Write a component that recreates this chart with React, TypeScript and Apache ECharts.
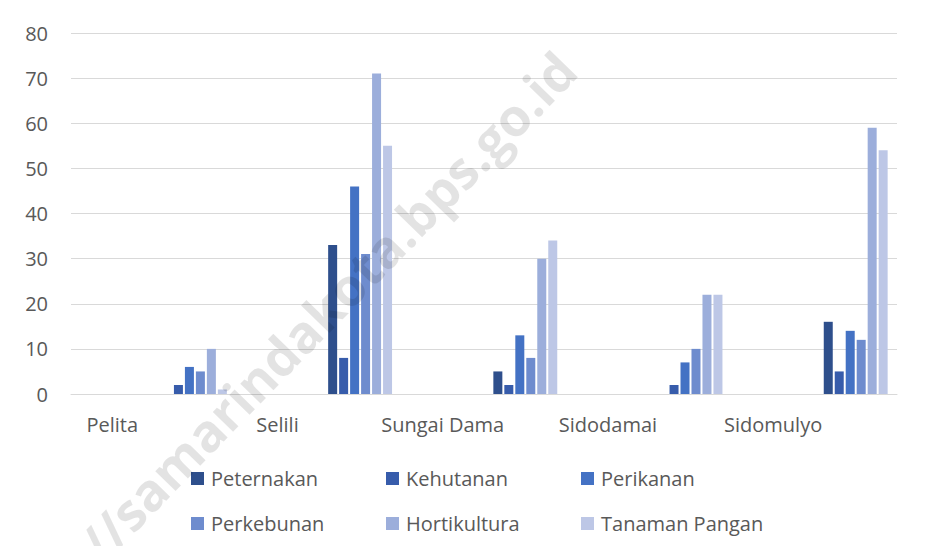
import React, { useEffect, useRef } from "react";
import * as echarts from "echarts";

const villages = ["Pelita", "Selili", "Sungai Dama", "Sidodamai", "Sidomulyo"];
const seriesNames = ["Peternakan", "Kehutanan", "Perikanan", "Perkebunan", "Hortikultura", "Tanaman Pangan"];
const peternakan = [0, 33, 5, 0, 16];
const kehutanan = [2, 8, 2, 2, 5];
const perikanan = [6, 46, 13, 7, 14];
const perkebunan = [5, 31, 8, 10, 12];
const hortikultura = [10, 71, 30, 22, 59];
const tanamanPangan = [1, 55, 34, 22, 54];
const yTicks = [0, 10, 20, 30, 40, 50, 60, 70, 80];

const colors = ["#2E4F8C", "#375CAB", "#4472C4", "#6E8CCE", "#9CAEDB", "#BDC7E6"];
const FONT = "'Open Sans', sans-serif";
const TEXT = "#595959";
const GRID = "#D9D9D9";

export default function App() {
  const ref = useRef<HTMLDivElement>(null);
  useEffect(() => {
    if (!ref.current) return;
    const chart = echarts.init(ref.current, undefined, { renderer: "svg" });
    // Excel layout: each village label sits in its own slot, its bars in the following slot
    const categories: string[] = [];
    villages.forEach((v) => {
      categories.push(v);
      categories.push("");
    });
    const interleave = (vals: number[]) => {
      const out: (number | null)[] = [];
      vals.forEach((v) => {
        out.push(null);
        out.push(v);
      });
      return out;
    };
    const allValues = [peternakan, kehutanan, perikanan, perkebunan, hortikultura, tanamanPangan];
    const legendCommon = {
      orient: "horizontal",
      itemWidth: 13,
      itemHeight: 13,
      itemGap: 0,
      icon: "rect",
      textStyle: {
        fontFamily: FONT,
        fontSize: 20,
        color: TEXT,
        width: 175,
        lineHeight: 21,
        padding: [0, 0, 0, 2],
      },
    };
    chart.setOption({
      animation: false,
      backgroundColor: "#ffffff",
      color: colors,
      textStyle: { fontFamily: FONT },
      grid: { left: 71, right: 39, top: 33, bottom: 160 },
      xAxis: {
        type: "category",
        data: categories,
        axisTick: { show: false },
        axisLine: { lineStyle: { color: GRID, width: 1 } },
        axisLabel: { interval: 0, color: TEXT, fontSize: 20, fontFamily: FONT, margin: 20 },
        splitLine: { show: false },
      },
      yAxis: {
        type: "value",
        min: yTicks[0],
        max: yTicks[yTicks.length - 1],
        interval: 10,
        axisLine: { show: false },
        axisTick: { show: false },
        axisLabel: { color: TEXT, fontSize: 20, fontFamily: FONT, margin: 23 },
        splitLine: { lineStyle: { color: GRID, width: 1 } },
      },
      legend: [
        { ...legendCommon, left: 186, top: 463, data: seriesNames.slice(0, 3) },
        { ...legendCommon, left: 186, top: 508, data: seriesNames.slice(3, 6) },
      ],
      series: seriesNames.map((name, i) => ({
        name,
        type: "bar",
        data: interleave(allValues[i]),
        barWidth: 9,
        barGap: "22%",
        itemStyle: { color: colors[i] },
      })),
      graphic: {
        elements: [
          {
            type: "polyline",
            silent: true,
            z: 50,
            shape: { points: [[6, 554], [6, 3], [931, 3], [931, 554]] },
            style: { fill: null, stroke: "#D6D6D6", lineWidth: 2 },
          },
          {
            type: "text",
            x: 566,
            y: 60,
            rotation: 0.8,
            z: 100,
            silent: true,
            style: {
              text: "https://samarindakota.bps.go.id",
              font: "bold 52px 'Open Sans', sans-serif",
              fill: "rgba(0,0,0,0.11)",
              textAlign: "right",
              textVerticalAlign: "middle",
            },
          },
        ],
      },
    });
    return () => chart.dispose();
  }, []);
  return <div ref={ref} style={{ width: 936, height: 554, margin: -8 }} />;
}
